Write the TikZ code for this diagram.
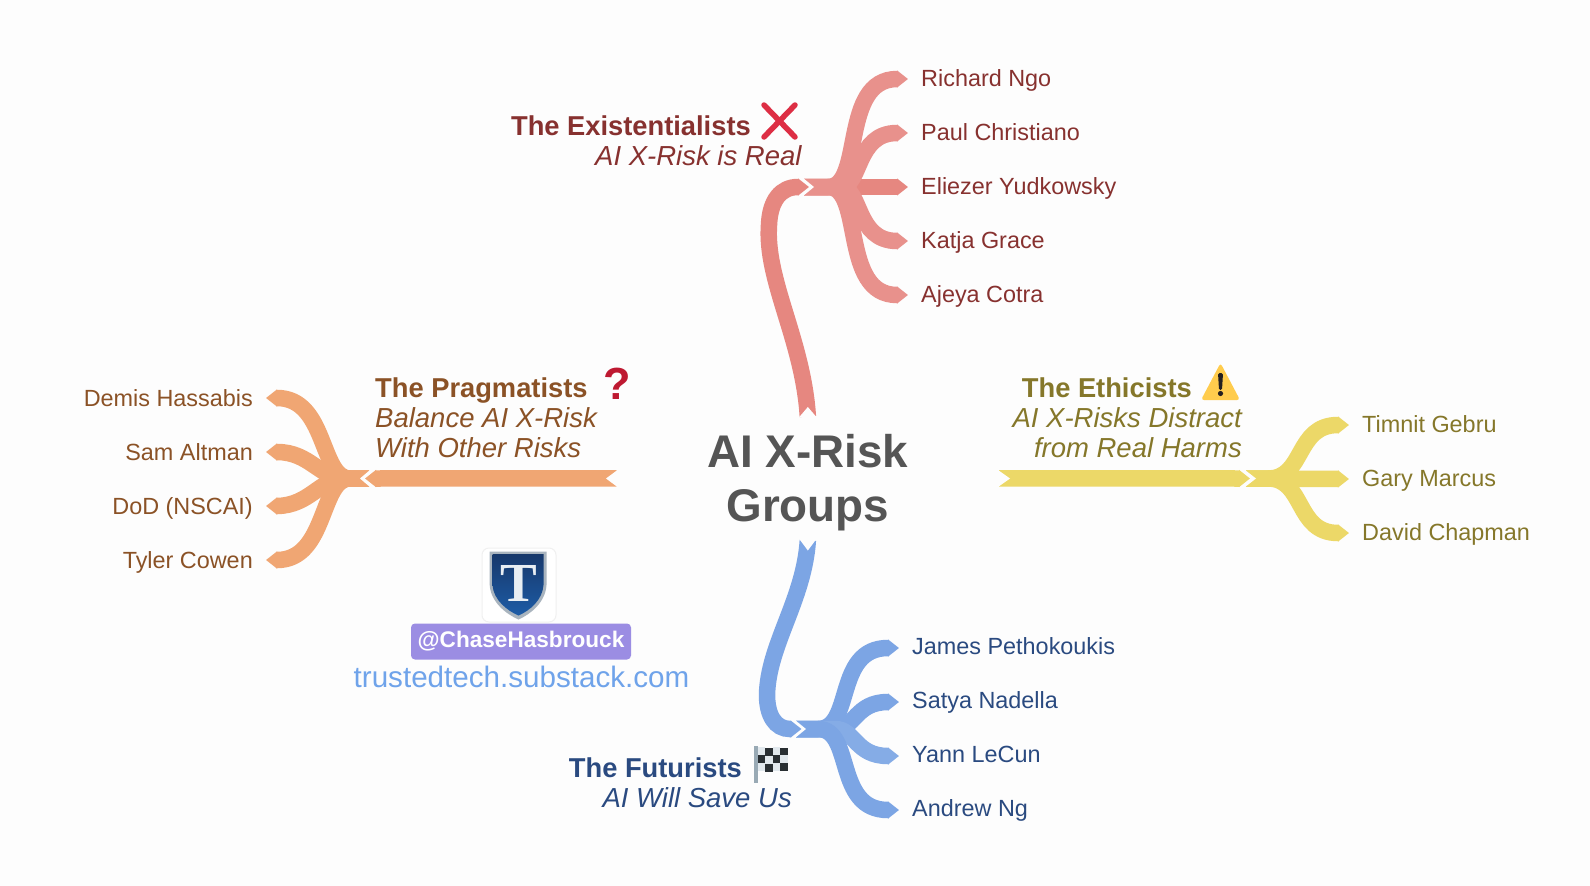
\documentclass[tikz,border=0pt]{standalone}
\usepackage{fontspec}
\setmainfont{Liberation Sans}
\usetikzlibrary{arrows.meta}
\definecolor{bgc}{HTML}{FDFDFD}
\definecolor{redA}{HTML}{E68780}
\definecolor{redB}{HTML}{E8918C}
\definecolor{redT}{HTML}{87312F}
\definecolor{orgA}{HTML}{F0A673}
\definecolor{orgT}{HTML}{8B5226}
\definecolor{yelA}{HTML}{ECD868}
\definecolor{yelT}{HTML}{85772A}
\definecolor{bluA}{HTML}{7CA5E4}
\definecolor{bluB}{HTML}{85ACE6}
\definecolor{bluT}{HTML}{2A4A80}
\definecolor{rootT}{HTML}{555555}
\definecolor{xred}{HTML}{DD2E44}
\definecolor{qred}{HTML}{BE1931}
\definecolor{warnY}{HTML}{FFCC4D}
\definecolor{warnK}{HTML}{231F20}
\definecolor{flagP}{HTML}{99AAB5}
\definecolor{flagW}{HTML}{E1E8ED}
\definecolor{flagK}{HTML}{292F33}
\definecolor{badgeC}{HTML}{9B8DE3}
\definecolor{urlC}{HTML}{6FA3EA}
\definecolor{shieldT}{HTML}{17386B}
\definecolor{shieldM}{HTML}{1F5AA3}
\definecolor{shieldB}{HTML}{1D5CA6}
\definecolor{shieldE}{HTML}{A9B4BE}
\definecolor{letterT}{HTML}{E8EEF3}
\tikzset{
  branch/.style={draw=#1,line width=16.5pt,line cap=butt,-{Triangle[length=11pt,width=16.5pt,fill=#1,color=#1]}},
  notch/.style={fill=bgc,draw=none},
  leaf/.style={inner sep=0pt,font=\fontsize{23.4}{28}\selectfont},
  head/.style={inner sep=0pt,font=\fontsize{27.3}{32}\selectfont\bfseries},
  sub/.style={inner sep=0pt,font=\fontsize{27.5}{32}\selectfont\itshape},
}
\begin{document}
\begin{tikzpicture}[x=1pt,y=-1pt]
\useasboundingbox (0,0) rectangle (1590,886);
\fill[bgc] (0,0) rectangle (1590,886);

% root
\node[minimum width=382.3pt,minimum height=123.3pt,inner sep=0pt,align=center,text=rootT,
      font=\fontsize{45.8}{54}\selectfont\bfseries] (root) at (807.85,478.4) {\rule{0pt}{41pt}AI X-Risk\\Groups};

% hubs
\coordinate (hubE) at (804,187);
\coordinate (hubP) at (369,478.5);
\coordinate (hubM) at (1246,478.5);
\coordinate (hubF) at (796,729);
\coordinate (tipE) at (809,187);
\coordinate (tipP) at (365,478.5);
\coordinate (tipM) at (1250,478.5);
\coordinate (tipF) at (801.5,729);

% leaf labels
\foreach \n/\y/\t in {e1/86/Richard Ngo,e2/140/Paul Christiano,e3/194/Eliezer Yudkowsky,e4/248/Katja Grace,e5/302/Ajeya Cotra}
  \node[leaf,text=redT,anchor=base west] (\n) at (921,\y) {\t};
\foreach \n/\y/\t in {f1/654/James Pethokoukis,f2/708/Satya Nadella,f3/762/Yann LeCun,f4/816/Andrew Ng}
  \node[leaf,text=bluT,anchor=base west] (\n) at (912,\y) {\t};
\foreach \n/\y/\t in {m1/432/Timnit Gebru,m2/486/Gary Marcus,m3/540/David Chapman}
  \node[leaf,text=yelT,anchor=base west] (\n) at (1362,\y) {\t};
\foreach \n/\y/\t in {p1/406/Demis Hassabis,p2/460/Sam Altman,p3/514/DoD (NSCAI),p4/568/Tyler Cowen}
  \node[leaf,text=orgT,anchor=base east] (\n) at (253,\y) {\t};

% red branches
\draw[branch=redA] (hubE) -- ([xshift=-13pt,yshift=7pt]e3.base west);
\draw[branch=redB] (hubE) -- (828,187) .. controls (864,187) and (840,79.3) .. ([xshift=-24pt,yshift=7pt]e1.base west) -- ([xshift=-13pt,yshift=7pt]e1.base west);
\draw[branch=redB] (hubE) -- (840,187) .. controls (862,187) and (855,133) .. ([xshift=-24pt,yshift=7pt]e2.base west) -- ([xshift=-13pt,yshift=7pt]e2.base west);
\draw[branch=redB] (hubE) -- (828,187) .. controls (864,187) and (840,295) .. ([xshift=-24pt,yshift=7pt]e5.base west) -- ([xshift=-13pt,yshift=7pt]e5.base west);
\draw[branch=redB] (hubE) -- (840,187) .. controls (862,187) and (855,241) .. ([xshift=-24pt,yshift=7pt]e4.base west) -- ([xshift=-13pt,yshift=7pt]e4.base west);
\fill[notch] (803,178) -- (814,187) -- (803,196) -- cycle;
\draw[branch=redA] (root.north) .. controls (803,340) and (765,280) .. (769,225) .. controls (770,200) and (781,187) .. (798,187) -- (tipE);
\fill[notch] (799.3,417) -- (807.85,407) -- (816.4,417) -- cycle;

% blue branches
\draw[branch=bluA] (hubF) -- (818,729) .. controls (854,729) and (834,648) .. ([xshift=-24pt,yshift=6pt]f1.base west) -- ([xshift=-13pt,yshift=6pt]f1.base west);
\draw[branch=bluA] (hubF) -- (835,729) .. controls (855,729) and (855,702) .. ([xshift=-24pt,yshift=6pt]f2.base west) -- ([xshift=-13pt,yshift=6pt]f2.base west);
\draw[branch=bluB] (hubF) -- (835,729) .. controls (855,729) and (855,756) .. ([xshift=-24pt,yshift=6pt]f3.base west) -- ([xshift=-13pt,yshift=6pt]f3.base west);
\draw[branch=bluA] (hubF) -- (818,729) .. controls (854,729) and (834,810) .. ([xshift=-24pt,yshift=6pt]f4.base west) -- ([xshift=-13pt,yshift=6pt]f4.base west);
\fill[notch] (795,720) -- (806,729) -- (795,738) -- cycle;
\draw[branch=bluA] (root.south) .. controls (804,600) and (768,645) .. (767,695) .. controls (767,715) and (775,729) .. (790,729) -- (tipF);
\fill[notch] (799.3,539) -- (807.85,550.5) -- (816.4,539) -- cycle;

% yellow branches
\draw[branch=yelA] (hubM) -- (1268,478.5) .. controls (1305,478.5) and (1295,425) .. ([xshift=-24pt,yshift=7pt]m1.base west) -- ([xshift=-13pt,yshift=7pt]m1.base west);
\draw[branch=yelA] (hubM) -- ([xshift=-13pt,yshift=7pt]m2.base west);
\draw[branch=yelA] (hubM) -- (1268,478.5) .. controls (1305,478.5) and (1295,533) .. ([xshift=-24pt,yshift=7pt]m3.base west) -- ([xshift=-13pt,yshift=7pt]m3.base west);
\fill[notch] (1245,470) -- (1256,478.5) -- (1245,487) -- cycle;
\draw[branch=yelA] (root.east) -- (tipM);
\fill[notch] (998,470) -- (1010,478.5) -- (998,487) -- cycle;

% orange branches
\draw[branch=orgA] (hubP) -- (350,478.5) .. controls (320,478.5) and (327,398) .. ([xshift=24pt,yshift=8pt]p1.base east) -- ([xshift=13pt,yshift=8pt]p1.base east);
\draw[branch=orgA] (hubP) -- (345,478.5) .. controls (320,478.5) and (310,452) .. ([xshift=24pt,yshift=8pt]p2.base east) -- ([xshift=13pt,yshift=8pt]p2.base east);
\draw[branch=orgA] (hubP) -- (345,478.5) .. controls (320,478.5) and (310,505.5) .. ([xshift=24pt,yshift=8pt]p3.base east) -- ([xshift=13pt,yshift=8pt]p3.base east);
\draw[branch=orgA] (hubP) -- (350,478.5) .. controls (320,478.5) and (327,560) .. ([xshift=24pt,yshift=8pt]p4.base east) -- ([xshift=13pt,yshift=8pt]p4.base east);
\fill[notch] (370,470) -- (360,478.5) -- (370,487) -- cycle;
\draw[branch=orgA] (root.west) -- (tipP);
\fill[notch] (617.5,470) -- (606,478.5) -- (617.5,487) -- cycle;

% headings
\node[head,text=redT,anchor=base east] (eh) at (751,135.3) {The Existentialists};
\node[sub,text=redT,anchor=base east] (es) at (801.7,165.3) {AI X-Risk is Real};
\node[head,text=orgT,anchor=base west] (ph) at (375,397) {The Pragmatists};
\node[sub,text=orgT,anchor=base west] (ps1) at (375,427) {Balance AI X-Risk};
\node[sub,text=orgT,anchor=base west] (ps2) at (375,457.5) {With Other Risks};
\node[head,text=yelT,anchor=base east] (mh) at (1192,397) {The Ethicists};
\node[sub,text=yelT,anchor=base east] (ms1) at (1242,427) {AI X-Risks Distract};
\node[sub,text=yelT,anchor=base east] (ms2) at (1242,457.5) {from Real Harms};
\node[head,text=bluT,anchor=base east] (fh) at (742,777.7) {The Futurists};
\node[sub,text=bluT,anchor=base east] (fs) at (792,807.3) {AI Will Save Us};

% icons
\draw[color=xred,line width=5.5pt,line cap=round] (764,105) -- (795,137) (795,105) -- (764,137);
\node[inner sep=0pt,anchor=base,text=qred,font=\fontsize{45}{45}\selectfont\bfseries] (qm) at (617,399) {?};
\fill[color=warnY,rounded corners=3pt] (1220.5,363) -- (1240,400) -- (1201,400) -- cycle;
\fill[color=warnK,rounded corners=1.5pt] (1218,373) -- (1223,373) -- (1222,390) -- (1219,390) -- cycle;
\fill[color=warnK] (1220.5,393.5) circle (2.6pt);
\fill[color=flagP] (754,746) rectangle (758,782.5);
\foreach \i/\d in {0/0,1/1,2/0,3/0.3}{
  \fill[color=flagW] ({757.7+\i*7.5},{747.3+\d}) rectangle ++(7.6,23.4);
}
\foreach \i/\j/\d in {1/0/1,3/0/0.3,0/1/0,2/1/0,1/2/1,3/2/0.3}{
  \fill[color=flagK] ({757.7+\i*7.5},{747.3+\j*7.8+\d}) rectangle ++(7.5,7.8);
}
% logo
\draw[draw=black!6,fill=white,rounded corners=7pt,line width=1pt] (482,548) rectangle (556,622);
\fill[color=shieldE] (489.7,551.5) -- (546.5,551.5) -- (546.5,585) .. controls (545.5,602) and (531,614) .. (518.5,619.5) .. controls (506,614) and (490.7,602) .. (489.7,585) -- cycle;
\shade[top color=shieldT,middle color=shieldM,bottom color=shieldB]
  (492.5,554) -- (543.5,554) -- (543.5,585) .. controls (542.5,600) and (530,610.5) .. (518.5,615.5) .. controls (507,610.5) and (493.5,600) .. (492.5,585) -- cycle;
\node[inner sep=0pt,anchor=base,text=letterT,font=\fontsize{55}{55}\selectfont\bfseries\fontspec{Liberation Serif}] (logoT) at (518.9,601.7) {T};
% badge
\node[fill=badgeC,rounded corners=4pt,minimum width=220pt,minimum height=36pt,inner sep=0pt,
      text=white,font=\fontsize{22.6}{28}\selectfont\bfseries] (badge) at (521,641.5) {\raisebox{-1pt}{@ChaseHasbrouck}};
\node[inner sep=0pt,anchor=base,text=urlC,font=\fontsize{29.6}{34}\selectfont] (url) at (521.5,687) {trustedtech.substack.com};
\end{tikzpicture}
\end{document}
